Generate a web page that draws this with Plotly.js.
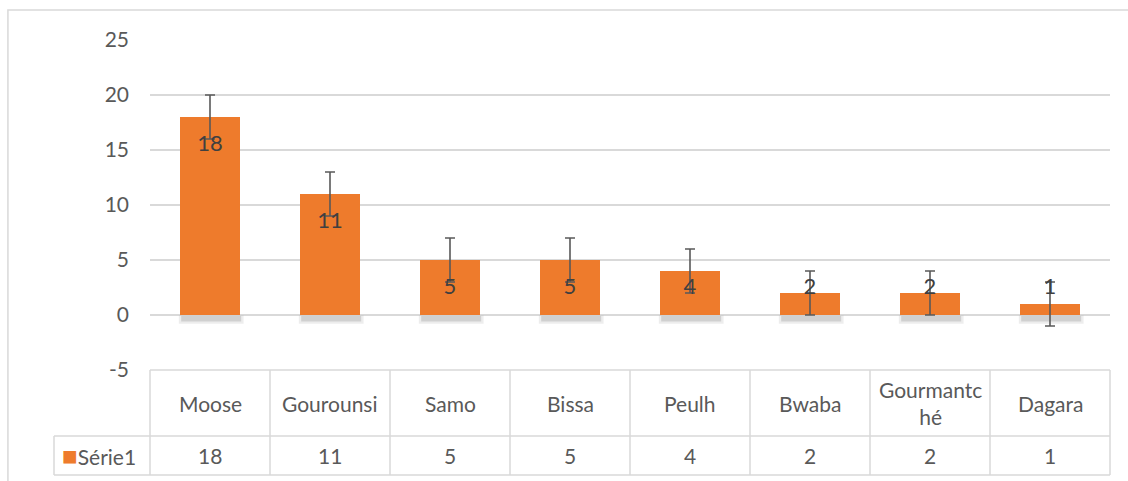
<!DOCTYPE html>
<html>
<head>
<meta charset="utf-8">
<script src="https://cdn.plot.ly/plotly-3.0.1.min.js"></script>
<style>
html,body{margin:0;padding:0;background:#fff;}
#chart{width:1128px;height:481px;}
</style>
</head>
<body>
<div id="chart"></div>
<script>
const categories = ["Moose", "Gourounsi", "Samo", "Bissa", "Peulh", "Bwaba", "Gourmantché", "Dagara"];
const headerLabels = ["Moose", "Gourounsi", "Samo", "Bissa", "Peulh", "Bwaba", "Gourmantc<br>hé", "Dagara"];
const values = [18, 11, 5, 5, 4, 2, 2, 1];
const errors = [2, 2, 2, 2, 2, 2, 2, 2];
const seriesName = "Série1";
const yTicks = [-5, 0, 5, 10, 15, 20, 25];

const FONT = "Lato, 'Liberation Sans', sans-serif";
const TXT = "#595959";
const GRID = "#D9D9D9";
const ORANGE = "#EE7B2C";

// label placement like Excel "inside end" (clamped for short bars)
const labelY = values.map(v => Math.max(v - 2.55, 2.4));

const shadowOuter = {
  type: "bar", x: categories, y: values.map(() => 0.75), base: values.map(() => -0.8),
  width: 0.54, offset: -0.26, marker: {color: "rgba(0,0,0,0.07)", line: {width: 0}},
  hoverinfo: "skip", showlegend: false
};
const shadowInner = {
  type: "bar", x: categories, y: values.map(() => 0.5), base: values.map(() => -0.6),
  width: 0.5, offset: -0.24, marker: {color: "rgba(0,0,0,0.12)", line: {width: 0}},
  hoverinfo: "skip", showlegend: false
};
const bars = {
  type: "bar", x: categories, y: values, name: seriesName, width: 0.5,
  marker: {color: ORANGE, line: {width: 0}},
  error_y: {type: "data", array: errors, visible: true, color: "#595959", thickness: 1.6, width: 5},
  showlegend: false
};
const labels = {
  type: "scatter", mode: "text", x: categories, y: labelY,
  text: values.map(String), textposition: "middle center",
  textfont: {family: FONT, size: 22, color: "#404040"},
  hoverinfo: "skip", showlegend: false
};

// table geometry (paper coords)
const rowTop = 0, rowMid = -0.2, rowBot = -0.318, legLeft = -0.1;
const shapes = [];
const lineStyle = {color: GRID, width: 1.5};
shapes.push({type: "line", xref: "paper", yref: "paper", x0: 0, x1: 1, y0: rowTop, y1: rowTop, line: lineStyle});
shapes.push({type: "line", xref: "paper", yref: "paper", x0: legLeft, x1: 1, y0: rowMid, y1: rowMid, line: lineStyle});
shapes.push({type: "line", xref: "paper", yref: "paper", x0: legLeft, x1: 1, y0: rowBot, y1: rowBot, line: lineStyle});
shapes.push({type: "line", xref: "paper", yref: "paper", x0: legLeft, x1: legLeft, y0: rowMid, y1: rowBot, line: lineStyle});
for (let i = 0; i <= categories.length; i++) {
  const xp = i / categories.length;
  shapes.push({type: "line", xref: "paper", yref: "paper", x0: xp, x1: xp, y0: rowTop, y1: rowBot, line: lineStyle});
}
// outer chart border
shapes.push({type: "rect", xref: "paper", yref: "paper", x0: -0.148, x1: 1.022, y0: -0.4, y1: 1.091,
  line: {color: GRID, width: 1.5}, layer: "below"});

const annotations = [];
categories.forEach((c, i) => {
  annotations.push({xref: "x", yref: "paper", x: c, y: (rowTop + rowMid) / 2, text: headerLabels[i],
    showarrow: false, font: {family: FONT, size: 21, color: TXT}, yanchor: "middle", xanchor: "center"});
  annotations.push({xref: "x", yref: "paper", x: c, y: (rowMid + rowBot) / 2, text: String(values[i]),
    showarrow: false, font: {family: FONT, size: 21, color: TXT}, yanchor: "middle", xanchor: "center"});
});
annotations.push({xref: "paper", yref: "paper", x: legLeft + 0.006, y: (rowMid + rowBot) / 2, xanchor: "left", yanchor: "middle",
  text: '<span style="color:' + ORANGE + ';font-size:26px">■</span>' + seriesName, showarrow: false,
  font: {family: FONT, size: 21, color: TXT}});

const layout = {
  width: 1128, height: 481,
  margin: {l: 150, r: 18, t: 40, b: 111},
  paper_bgcolor: "#fff", plot_bgcolor: "#fff",
  barmode: "overlay",
  font: {family: FONT, color: TXT},
  xaxis: {type: "category", showticklabels: false, showgrid: false, zeroline: false, showline: false,
    ticks: "", range: [-0.5, categories.length - 0.5], fixedrange: true},
  yaxis: {range: [-5, 25], tickvals: yTicks, ticktext: yTicks.map(String), showgrid: true, gridcolor: GRID,
    gridwidth: 1.5, zeroline: false, showline: false, ticks: "", ticklabelstandoff: 20,
    tickfont: {family: FONT, size: 21, color: TXT}, fixedrange: true},
  shapes: shapes,
  annotations: annotations,
  showlegend: false
};

Plotly.newPlot("chart", [shadowOuter, shadowInner, bars, labels], layout, {displayModeBar: false, staticPlot: true});
</script>
</body>
</html>
